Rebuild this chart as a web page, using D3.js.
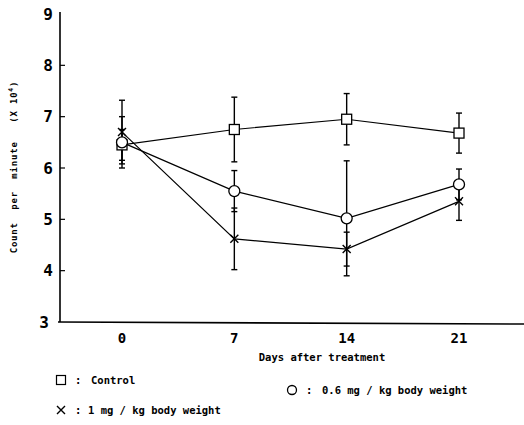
<!DOCTYPE html>
<html>
<head>
<meta charset="utf-8">
<script src="https://cdn.jsdelivr.net/npm/d3@7"></script>
<style>
  body { margin: 0; background: #fff; }
  svg { display: block; }
  text { font-family: "DejaVu Sans Mono", monospace; font-weight: bold; fill: #000; white-space: pre; }
</style>
</head>
<body>
<svg id="chart"></svg>
<script>
// values (count per minute, x 10^4)
var days       = [0, 7, 14, 21];
var control    = [6.45, 6.75, 6.95, 6.68];
var controlErr = [0.30, 0.63, 0.50, 0.39];
var low        = [6.50, 5.55, 5.02, 5.68];   // 0.6 mg / kg
var lowErr     = [0.50, 0.40, 1.12, 0.30];
var high       = [6.70, 4.62, 4.42, 5.35];   // 1 mg / kg
var highErr    = [0.62, 0.60, 0.33, 0.37];
var yTicks     = [3, 4, 5, 6, 7, 8, 9];

var width = 524, height = 425;

var svg = d3.select("#chart")
    .attr("width", width)
    .attr("height", height);

var x = d3.scaleLinear().domain([0, 21]).range([122, 459]);
var y = d3.scaleLinear().domain([3, 9]).range([322, 14]);

var series = [
  { name: "Control",  values: control, err: controlErr, shape: "square" },
  { name: "0.6 mg",   values: low,     err: lowErr,     shape: "circle" },
  { name: "1 mg",     values: high,    err: highErr,    shape: "cross" }
];

// axes (drawn by hand so they look like the plotted original)
svg.append("line")
    .attr("x1", 60).attr("y1", y(9) - 2)
    .attr("x2", 60).attr("y2", y(3))
    .attr("stroke", "#000").attr("stroke-width", 1.6);
svg.append("line")
    .attr("x1", 58).attr("y1", y(3))
    .attr("x2", width).attr("y2", y(3) + 2)
    .attr("stroke", "#000").attr("stroke-width", 1.6);

// inner ticks on y axis, except the ends
svg.append("g").selectAll("line")
    .data(yTicks.filter(function (d) { return d > 3 && d < 9; }))
    .enter().append("line")
      .attr("x1", 60).attr("x2", 65)
      .attr("y1", function (d) { return y(d); })
      .attr("y2", function (d) { return y(d); })
      .attr("stroke", "#000").attr("stroke-width", 1.2);

svg.append("g").selectAll("text")
    .data(yTicks)
    .enter().append("text")
      .attr("x", function (d) { return d === 3 ? 49 : 53; })
      .attr("y", function (d) { return y(d); })
      .attr("dy", "0.36em")
      .attr("text-anchor", "end")
      .style("font-size", "16px")
      .text(function (d) { return d; });

svg.append("g").selectAll("text")
    .data(days)
    .enter().append("text")
      .attr("x", function (d) { return x(d); })
      .attr("y", 343)
      .attr("text-anchor", "middle")
      .style("font-size", "14px")
      .text(function (d) { return d; });

svg.append("text")
    .attr("x", 322).attr("y", 361)
    .attr("text-anchor", "middle")
    .style("font-size", "10.5px")
    .text("Days after treatment");

var ylab = svg.append("text")
    .attr("transform", "translate(17,167) rotate(-90)")
    .attr("text-anchor", "middle")
    .style("font-size", "9px")
    .style("letter-spacing", "0.8px");
ylab.append("tspan").text("Count  per  minute   (X 10");
ylab.append("tspan").attr("dy", -4).style("font-size", "6.5px").text("4");
ylab.append("tspan").attr("dy", 4).text(")");

// error bars
series.forEach(function (s) {
  var g = svg.append("g").attr("stroke", "#000").attr("stroke-width", 1.4);
  days.forEach(function (d, i) {
    var top = y(s.values[i] + s.err[i]), bot = y(s.values[i] - s.err[i]);
    g.append("line").attr("x1", x(d)).attr("x2", x(d)).attr("y1", top).attr("y2", bot);
    g.append("line").attr("x1", x(d) - 3).attr("x2", x(d) + 3).attr("y1", top).attr("y2", top);
    g.append("line").attr("x1", x(d) - 3).attr("x2", x(d) + 3).attr("y1", bot).attr("y2", bot);
  });
});

// lines
var line = d3.line()
    .x(function (d, i) { return x(days[i]); })
    .y(function (d) { return y(d); });

series.forEach(function (s) {
  svg.append("path")
     .datum(s.values)
     .attr("d", line)
     .attr("fill", "none")
     .attr("stroke", "#000")
     .attr("stroke-width", 1.2);
});

function marker(g, shape, cx, cy) {
  if (shape === "square") {
    g.append("rect").attr("x", cx - 5).attr("y", cy - 5).attr("width", 10).attr("height", 10)
     .attr("fill", "#fff").attr("stroke", "#000").attr("stroke-width", 1.3);
  } else if (shape === "circle") {
    g.append("circle").attr("cx", cx).attr("cy", cy).attr("r", 5.5)
     .attr("fill", "#fff").attr("stroke", "#000").attr("stroke-width", 1.3);
  } else {
    g.append("path")
     .attr("d", "M" + (cx - 4) + "," + (cy - 4) + "L" + (cx + 4) + "," + (cy + 4) +
                "M" + (cx - 4) + "," + (cy + 4) + "L" + (cx + 4) + "," + (cy - 4))
     .attr("stroke", "#000").attr("stroke-width", 1.4);
  }
}

// markers (control first so the day-0 circle sits on top, like the original)
series.forEach(function (s) {
  var g = svg.append("g");
  days.forEach(function (d, i) {
    marker(g, s.shape, x(d), y(s.values[i]));
  });
});

// legend
var legend = [
  { shape: "square", label: "Control",                 x: 61,  y: 380 },
  { shape: "circle", label: "0.6 mg / kg body weight", x: 292, y: 390 },
  { shape: "cross",  label: "1 mg / kg body weight",   x: 61,  y: 410 }
];
legend.forEach(function (l) {
  var g = svg.append("g");
  if (l.shape === "square") {
    g.append("rect").attr("x", l.x - 4.5).attr("y", l.y - 4.5).attr("width", 9).attr("height", 9)
     .attr("fill", "#fff").attr("stroke", "#000").attr("stroke-width", 1.2);
  } else if (l.shape === "circle") {
    g.append("circle").attr("cx", l.x).attr("cy", l.y).attr("r", 4.5)
     .attr("fill", "#fff").attr("stroke", "#000").attr("stroke-width", 1.3);
  } else {
    marker(g, "cross", l.x, l.y);
  }
  g.append("text").attr("x", l.x + 14).attr("y", l.y).attr("dy", "0.35em")
   .style("font-size", "10.5px").text(":");
  g.append("text").attr("x", l.x + (l.shape === "cross" ? 27 : 30)).attr("y", l.y).attr("dy", "0.35em")
   .style("font-size", "10.5px").text(l.label);
});
</script>
</body>
</html>
